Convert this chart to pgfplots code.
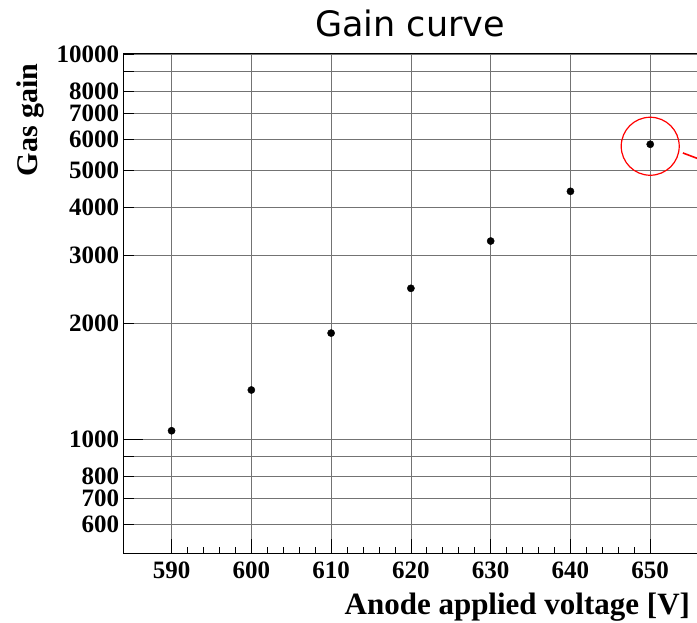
\documentclass[border=0pt]{standalone}
\usepackage{pgfplots}
\pgfplotsset{compat=1.18}
\usepackage{fontspec}
\setmainfont{Liberation Serif}
\newfontfamily\titlefont{DejaVu Sans}

\begin{document}
\begin{tikzpicture}
  \useasboundingbox (0pt,0pt) rectangle (697pt,622pt);
  \clip (0pt,0pt) rectangle (697pt,622pt);
  \begin{axis}[
    at={(123.7pt,68pt)}, anchor=south west,
    scale only axis, width=574.4pt, height=500pt,
    ymode=log,
    xmin=584, xmax=656, ymin=503, ymax=10000,
    xtick={590,600,...,650}, minor x tick num=4,
    xtick pos=bottom, ytick pos=left,
    ytick={600,700,800,900,1000,2000,3000,4000,5000,6000,7000,8000,9000,10000},
    yticklabels={600,700,800,,1000,2000,3000,4000,5000,6000,7000,8000,,10000},
    extra y ticks={1000}, extra y tick labels={},
    extra y tick style={major tick length=19pt, grid=none},
    extra x ticks={590,600,...,650}, extra x tick labels={},
    extra x tick style={major tick length=15pt, grid=none},
    major tick length=10pt, minor tick length=7pt,
    tick style={black, line width=0.8pt},
    xmajorgrids, ymajorgrids,
    major grid style={black!55, line width=0.7pt},
    axis line style={black, line width=1pt},
    /pgf/number format/assume math mode=true,
    /pgf/number format/1000 sep={},
    ticklabel style={font=\fontsize{25}{25}\selectfont\bfseries},
    xticklabel style={yshift=-4pt},
    yticklabel style={xshift=-1pt},
    xlabel={Anode applied voltage [V]},
    xlabel style={at={(axis description cs:0.992,0)}, anchor=base east,
      yshift=-61pt, font=\fontsize{31}{31}\selectfont\bfseries},
    clip=false,
  ]
    \addplot[only marks, mark=*, mark size=3.6pt, black] coordinates {
      (590,1051) (600,1341) (610,1885) (620,2463)
      (630,3268) (640,4399) (650,5829)
    };
    \draw[red, line width=1.2pt] (axis cs:650,5760) circle[radius=29pt];
    \draw[red, line width=1.6pt] (axis cs:654.1,5533) -- (axis cs:661,4885);
  \end{axis}
  \node[rotate=90, anchor=base east, font=\fontsize{30}{30}\selectfont\bfseries]
    at (38pt,562pt) {Gas gain};
  \node[font=\titlefont\fontsize{35}{35}\selectfont, anchor=base] at (410pt,585pt) {Gain curve};
\end{tikzpicture}
\end{document}
